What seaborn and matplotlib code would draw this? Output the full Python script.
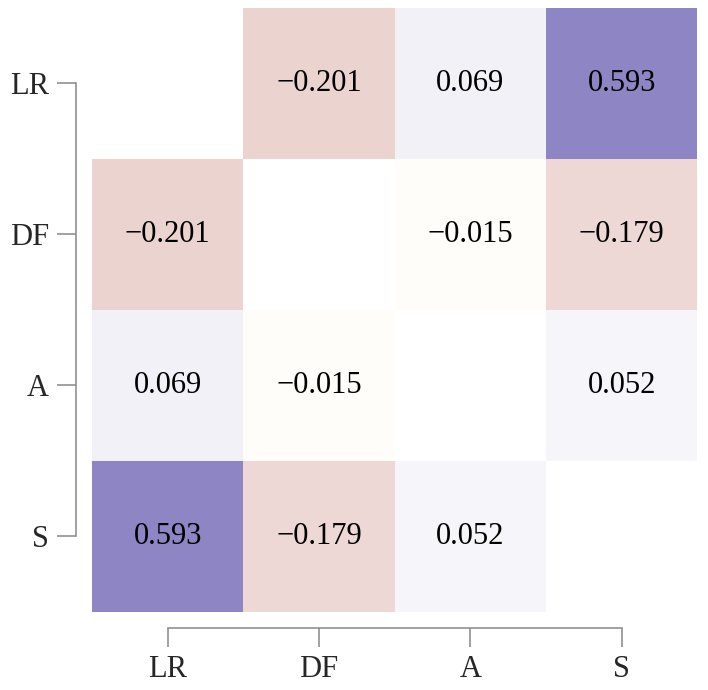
import numpy as np
import pandas as pd
import matplotlib
matplotlib.use("Agg")
import matplotlib.pyplot as plt
import seaborn as sns
from matplotlib.colors import LinearSegmentedColormap

# correlation values
labels = ["LR", "DF", "A", "S"]
row_LR = [1.0, -0.201, 0.069, 0.593]
row_DF = [-0.201, 1.0, -0.015, -0.179]
row_A = [0.069, -0.015, 1.0, 0.052]
row_S = [0.593, -0.179, 0.052, 1.0]

corr = pd.DataFrame([row_LR, row_DF, row_A, row_S], index=labels, columns=labels)

# hide the diagonal
mask = np.eye(len(labels), dtype=bool)

# annotation text with a real minus sign
annot = corr.map(lambda v: f"{v:.3f}".replace("-", "\u2212"))

sns.set_style("white")
plt.rcParams["font.family"] = ["Liberation Serif", "DejaVu Serif"]

cmap = LinearSegmentedColormap.from_list(
    "pinkpurple",
    [(0.0, "#932231"), (0.49, "#fffbf4"), (0.5, "#ffffff"), (1.0, "#40339b")],
)

fig = plt.figure(figsize=(7.08, 6.90), dpi=100)
ax = fig.add_axes([0.130, 0.113, 0.855, 0.876])

sns.heatmap(corr, mask=mask, cmap=cmap, vmin=-1, vmax=1, center=0,
            annot=annot, fmt="", cbar=False, square=False,
            annot_kws={"size": 22, "color": "black"}, ax=ax)

sns.despine(ax=ax, offset=11.5, trim=True)
for side in ["left", "bottom"]:
    ax.spines[side].set_color("#888888")
    ax.spines[side].set_linewidth(1.1)

ax.tick_params(axis="both", which="both", length=13.5, width=1.1,
               color="#888888", labelsize=22, pad=6, left=True, bottom=True)
ax.set_xticklabels(labels, rotation=0)
ax.set_yticklabels(labels, rotation=0)
ax.set_xlabel("")
ax.set_ylabel("")

fig.savefig("out.png", dpi=100)
